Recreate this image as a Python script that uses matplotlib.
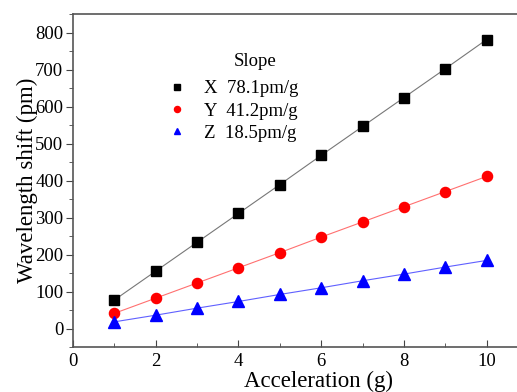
import matplotlib.pyplot as plt
from matplotlib.ticker import MultipleLocator

# data
accel = [1, 2, 3, 4, 5, 6, 7, 8, 9, 10]
shift_x = [77, 155, 233, 311, 389, 468, 546, 624, 702, 781]
shift_y = [41, 82, 123, 164, 205, 247, 288, 329, 370, 411]
shift_z = [18, 36, 55, 73, 92, 110, 129, 147, 166, 184]
labels = ["X  78.1pm/g", "Y  41.2pm/g", "Z  18.5pm/g"]

plt.rcParams["font.family"] = ["Liberation Serif", "DejaVu Serif"]

fig = plt.figure(figsize=(5.17, 3.92), dpi=100)
ax = fig.add_axes([73 / 517, 45 / 392, 455 / 517, 333 / 392])

# fit lines
ax.plot(accel, shift_x, color="#777777", linewidth=0.8, zorder=1)
ax.plot(accel, shift_y, color="#ff7070", linewidth=0.8, zorder=1)
ax.plot(accel, shift_z, color="#6060ff", linewidth=0.8, zorder=1)

# markers
ax.plot(accel, shift_x, "s", color="black", markersize=6.5, linestyle="none",
        label=labels[0], zorder=2)
ax.plot(accel, shift_y, "o", color="red", markersize=7.3, linestyle="none",
        label=labels[1], zorder=2)
ax.plot(accel, shift_z, "^", color="blue", markersize=8, linestyle="none",
        label=labels[2], zorder=2)

ax.set_xlim(0, 11)
ax.set_ylim(-50, 850)
ax.xaxis.set_major_locator(MultipleLocator(2))
ax.xaxis.set_minor_locator(MultipleLocator(1))
ax.yaxis.set_major_locator(MultipleLocator(100))
ax.yaxis.set_minor_locator(MultipleLocator(50))

ax.tick_params(axis="x", which="both", direction="in", top=False,
               labelsize=13.5, color="#444444", pad=4)
ax.tick_params(axis="x", which="major", length=5)
ax.tick_params(axis="x", which="minor", length=3)
ax.tick_params(axis="y", which="both", direction="out", right=False,
               labelsize=13.5, color="#444444", pad=2)
ax.tick_params(axis="y", which="major", length=5)
ax.tick_params(axis="y", which="minor", length=3)

for s in ["left", "bottom", "top"]:
    ax.spines[s].set_color("#555555")
    ax.spines[s].set_linewidth(1.2)
ax.spines["right"].set_visible(False)

ax.set_xlabel("Acceleration (g)", fontsize=16.5)
ax.xaxis.set_label_coords(0.54, -0.071)
ax.set_ylabel("Wavelength shift (pm)", fontsize=16.5)
ax.yaxis.set_label_coords(-0.077, 0.5)

leg = ax.legend(loc="upper left", bbox_to_anchor=(168 / 517, 1 - 80 / 392),
                bbox_transform=fig.transFigure, frameon=False, fontsize=13.5,
                handlelength=1.0, handletextpad=0.9, labelspacing=0.28,
                borderpad=0, borderaxespad=0, markerscale=0.6)
fig.text(255 / 517, 1 - 62 / 392, "Slope", fontsize=13.5,
         ha="center", va="center")

fig.savefig("out.png", dpi=100)
